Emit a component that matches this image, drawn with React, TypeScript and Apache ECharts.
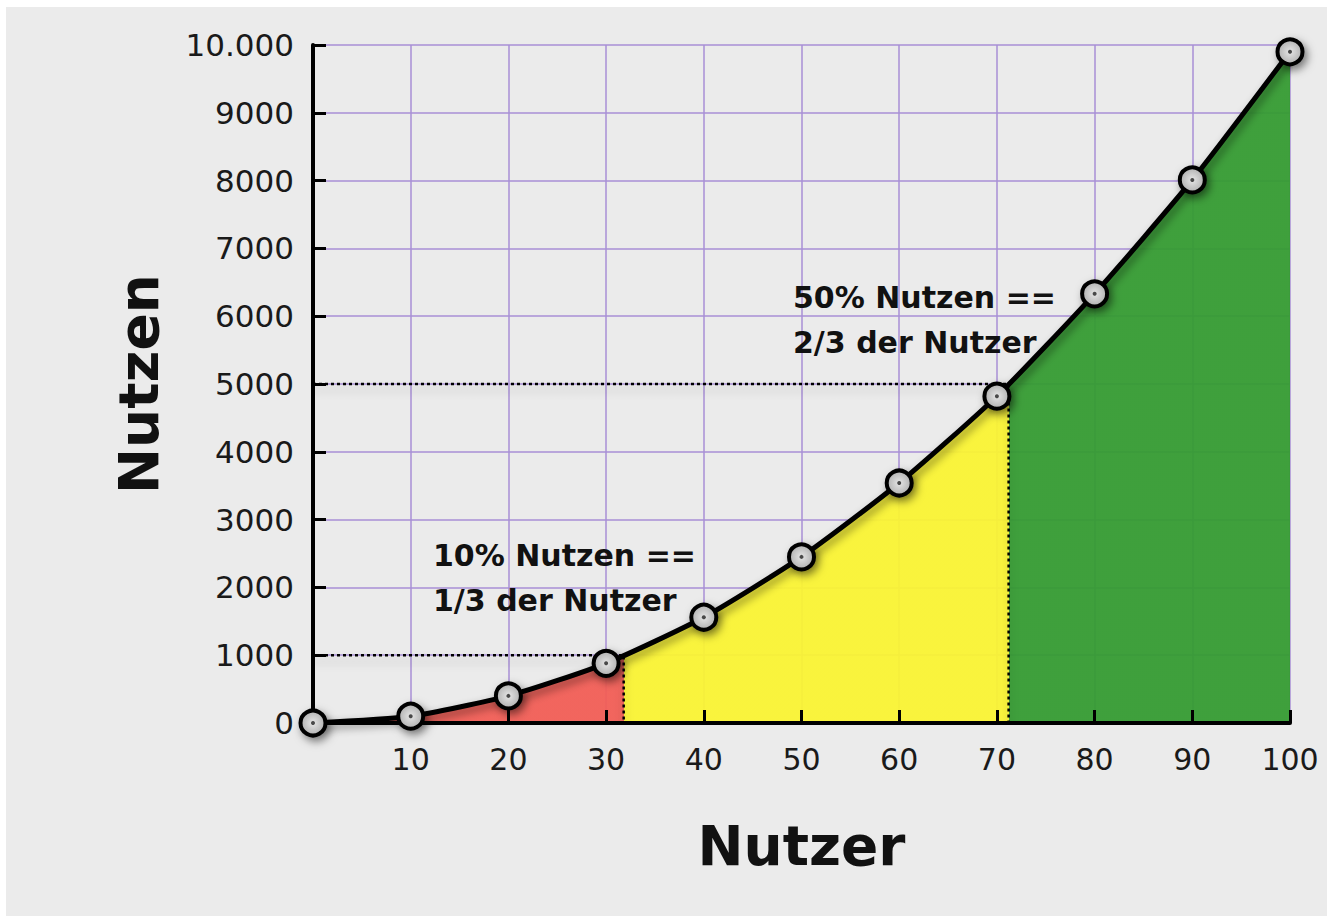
import React, { useEffect, useRef } from "react";
import * as echarts from "echarts";

const users = [0, 10, 20, 30, 40, 50, 60, 70, 80, 90, 100];
const utility = [0, 100, 400, 880, 1560, 2450, 3540, 4820, 6330, 8010, 9900];
const yTicks = [0, 1000, 2000, 3000, 4000, 5000, 6000, 7000, 8000, 9000, 10000];
const yTickLabels = ["0", "1000", "2000", "3000", "4000", "5000", "6000", "7000", "8000", "9000", "10.000"];
const xTickLabels = ["", "10", "20", "30", "40", "50", "60", "70", "80", "90", "100"];
// thresholds: utility level and the user share where the curve reaches it
const utilityLevels = [1000, 5000];
const userShares = [31.8, 71.2];
const zoneColors = ["#f25d55", "#faf432", "#349b31"];
const notes = ["10% Nutzen ==\n1/3 der Nutzer", "50% Nutzen ==\n2/3 der Nutzer"];

const FONT = "DejaVu Sans";

export default function App() {
  const ref = useRef<HTMLDivElement>(null);
  useEffect(() => {
    if (!ref.current) return;
    const chart = echarts.init(ref.current, null, { renderer: "svg" });
    const pairs = users.map((u, i) => [u, utility[i]]);
    const guideSeries = utilityLevels.map((lv, i) => ({
      type: "line",
      data: [
        [0, lv],
        [userShares[i], lv],
        [userShares[i], 0],
      ],
      xAxisIndex: 0,
      yAxisIndex: 0,
      z: 3,
      symbol: "none",
      silent: true,
      lineStyle: {
        color: "#000",
        width: 2.5,
        type: [3, 3],
        shadowColor: "rgba(0,0,0,0.3)",
        shadowBlur: 8,
        shadowOffsetY: 6,
      },
    }));
    const gridAxisCommon = {
      type: "value" as const,
      axisLine: { show: false },
      axisTick: { show: false },
      axisLabel: { show: false },
      splitLine: { show: true, lineStyle: { color: "#a88fd6", width: 2, opacity: 0.75 } },
      z: 0,
    };
    const option: any = {
      animation: false,
      backgroundColor: "#ebebeb",
      grid: { left: 307, right: 37, top: 38, bottom: 193 },
      xAxis: [
        { ...gridAxisCommon, min: 0, max: 100, interval: 10, position: "bottom" },
        {
          type: "value",
          min: 0,
          max: 100,
          interval: 10,
          position: "bottom",
          z: 3,
          splitLine: { show: false },
          axisLine: { show: true, lineStyle: { color: "#000", width: 4 } },
          axisTick: { show: true, inside: true, length: 13, lineStyle: { color: "#000", width: 3 } },
          axisLabel: {
            margin: 21,
            fontSize: 30,
            fontFamily: FONT,
            color: "#1a1a1a",
            formatter: (v: number) => xTickLabels[users.indexOf(v)] ?? "",
          },
          name: "Nutzer",
          nameLocation: "middle",
          nameGap: 95,
          nameTextStyle: { fontSize: 55, fontWeight: "bold", fontFamily: FONT, color: "#111" },
        },
      ],
      yAxis: [
        { ...gridAxisCommon, min: 0, max: 10000, interval: 1000, position: "left" },
        {
          type: "value",
          min: 0,
          max: 10000,
          interval: 1000,
          position: "left",
          z: 3,
          splitLine: { show: false },
          axisLine: { show: true, lineStyle: { color: "#000", width: 4 } },
          axisTick: { show: true, inside: true, length: 13, lineStyle: { color: "#000", width: 3 } },
          axisLabel: {
            margin: 19,
            fontSize: 31,
            fontFamily: FONT,
            color: "#1a1a1a",
            formatter: (v: number) => yTickLabels[yTicks.indexOf(v)] ?? "",
          },
          name: "Nutzen",
          nameLocation: "middle",
          nameRotate: 90,
          nameGap: 147,
          nameTextStyle: { fontSize: 55, fontWeight: "bold", fontFamily: FONT, color: "#111" },
        },
      ],
      visualMap: {
        type: "piecewise",
        show: false,
        dimension: 0,
        seriesIndex: 0,
        pieces: [
          { lt: userShares[0], color: zoneColors[0] },
          { gte: userShares[0], lt: userShares[1], color: zoneColors[1] },
          { gte: userShares[1], color: zoneColors[2] },
        ],
      },
      series: [
        {
          type: "line",
          data: pairs,
          smooth: 0.2,
          symbol: "none",
          xAxisIndex: 0,
          yAxisIndex: 0,
          z: 2,
          silent: true,
          lineStyle: { width: 0, opacity: 0 },
          areaStyle: { opacity: 0.94 },
        },
        ...guideSeries,
        {
          type: "line",
          data: pairs,
          smooth: 0.2,
          xAxisIndex: 0,
          yAxisIndex: 0,
          z: 4,
          clip: false,
          symbol: "circle",
          symbolSize: 25,
          lineStyle: {
            color: "#000",
            width: 5,
            shadowColor: "rgba(0,0,0,0.45)",
            shadowBlur: 8,
            shadowOffsetX: 3,
            shadowOffsetY: 4,
          },
          itemStyle: {
            color: new echarts.graphic.RadialGradient(0.5, 0.5, 0.5, [
              { offset: 0, color: "#e6e6e6" },
              { offset: 1, color: "#b0b0b0" },
            ]),
            borderColor: "#000",
            borderWidth: 4,
            shadowColor: "rgba(0,0,0,0.5)",
            shadowBlur: 8,
            shadowOffsetX: 3,
            shadowOffsetY: 4,
          },
        },
        {
          type: "scatter",
          data: pairs,
          xAxisIndex: 0,
          yAxisIndex: 0,
          z: 5,
          clip: false,
          symbol: "circle",
          symbolSize: 4,
          itemStyle: { color: "#222" },
          silent: true,
        },
      ],
      graphic: [
        {
          type: "text",
          x: 427,
          y: 526,
          z: 3,
          style: {
            text: notes[0],
            font: `bold 30px "${FONT}"`,
            lineHeight: 45,
            fill: "#111",
            verticalAlign: "top",
          },
        },
        {
          type: "text",
          x: 787,
          y: 268,
          z: 3,
          style: {
            text: notes[1],
            font: `bold 30px "${FONT}"`,
            lineHeight: 45,
            fill: "#111",
            verticalAlign: "top",
          },
        },
      ],
    };
    chart.setOption(option);
    return () => chart.dispose();
  }, []);
  return (
    <div
      ref={ref}
      style={{ position: "fixed", left: 6, top: 7, width: 1321, height: 909 }}
    />
  );
}
